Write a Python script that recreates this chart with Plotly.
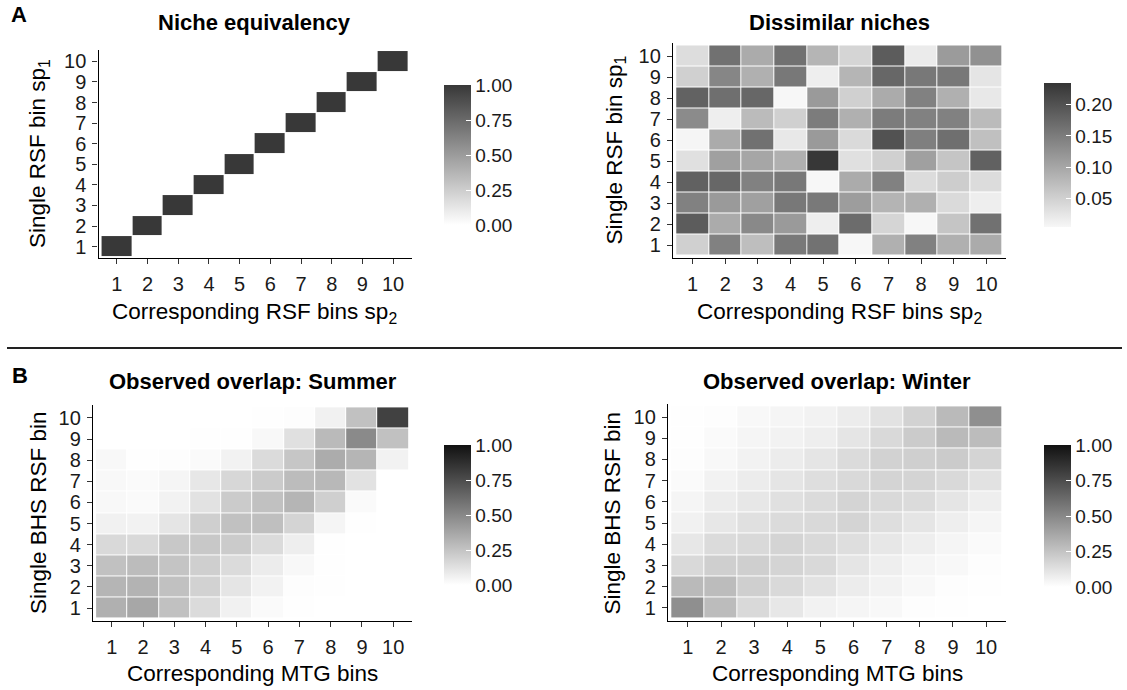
import plotly.graph_objects as go

bins = list(range(1, 11))
tick_labels = [str(b) for b in bins]

# Niche equivalency: identity matrix (rows = y bin 1..10)
z_equiv = [[1.0 if i == j else 0.0 for j in bins] for i in bins]

# Dissimilar niches (rows: y = 1..10, columns: x = 1..10)
z_dissim = [
    [0.050, 0.144, 0.072, 0.154, 0.162, 0.004, 0.088, 0.144, 0.088, 0.095],
    [0.189, 0.095, 0.135, 0.115, 0.015, 0.170, 0.044, 0.004, 0.063, 0.163],
    [0.144, 0.115, 0.107, 0.155, 0.154, 0.111, 0.084, 0.088, 0.038, 0.015],
    [0.183, 0.175, 0.144, 0.155, 0.004, 0.095, 0.144, 0.036, 0.054, 0.036],
    [0.031, 0.107, 0.101, 0.088, 0.233, 0.031, 0.051, 0.107, 0.063, 0.183],
    [0.006, 0.095, 0.163, 0.022, 0.115, 0.038, 0.201, 0.147, 0.166, 0.069],
    [0.133, 0.015, 0.075, 0.050, 0.151, 0.088, 0.151, 0.144, 0.144, 0.075],
    [0.182, 0.166, 0.175, 0.004, 0.115, 0.050, 0.095, 0.144, 0.088, 0.022],
    [0.050, 0.138, 0.088, 0.155, 0.015, 0.082, 0.175, 0.155, 0.155, 0.025],
    [0.035, 0.163, 0.095, 0.163, 0.082, 0.044, 0.189, 0.018, 0.114, 0.125],
]

# Observed overlap: Summer
z_summer = [
    [0.33, 0.37, 0.26, 0.15, 0.06, 0.02, 0.005, 0.0, 0.0, 0.0],
    [0.31, 0.32, 0.26, 0.19, 0.11, 0.055, 0.01, 0.003, 0.0, 0.0],
    [0.26, 0.28, 0.25, 0.20, 0.15, 0.08, 0.03, 0.005, 0.0, 0.0],
    [0.16, 0.16, 0.23, 0.23, 0.22, 0.15, 0.07, 0.005, 0.0, 0.0],
    [0.06, 0.055, 0.11, 0.20, 0.26, 0.27, 0.18, 0.04, 0.003, 0.0],
    [0.03, 0.02, 0.055, 0.12, 0.22, 0.26, 0.31, 0.20, 0.02, 0.0],
    [0.03, 0.02, 0.04, 0.10, 0.17, 0.22, 0.28, 0.30, 0.12, 0.0],
    [0.03, 0.005, 0.01, 0.02, 0.055, 0.15, 0.24, 0.35, 0.31, 0.055],
    [0.0, 0.0, 0.0, 0.003, 0.005, 0.03, 0.13, 0.29, 0.49, 0.26],
    [0.0, 0.0, 0.0, 0.0, 0.0, 0.003, 0.01, 0.06, 0.26, 0.80],
]

# Observed overlap: Winter
z_winter = [
    [0.47, 0.28, 0.16, 0.10, 0.055, 0.04, 0.03, 0.01, 0.005, 0.0],
    [0.29, 0.28, 0.20, 0.16, 0.12, 0.08, 0.055, 0.03, 0.01, 0.005],
    [0.16, 0.20, 0.20, 0.18, 0.16, 0.11, 0.07, 0.04, 0.03, 0.01],
    [0.10, 0.15, 0.16, 0.18, 0.16, 0.14, 0.10, 0.07, 0.04, 0.02],
    [0.06, 0.10, 0.13, 0.15, 0.16, 0.18, 0.14, 0.11, 0.07, 0.04],
    [0.04, 0.08, 0.10, 0.13, 0.15, 0.18, 0.16, 0.15, 0.11, 0.07],
    [0.02, 0.055, 0.08, 0.11, 0.14, 0.16, 0.18, 0.18, 0.16, 0.12],
    [0.01, 0.03, 0.055, 0.08, 0.11, 0.15, 0.19, 0.20, 0.22, 0.18],
    [0.005, 0.02, 0.04, 0.055, 0.07, 0.11, 0.16, 0.22, 0.29, 0.28],
    [0.005, 0.01, 0.03, 0.04, 0.055, 0.08, 0.12, 0.19, 0.29, 0.47],
]

cb_ticks_unit = [0.0, 0.25, 0.5, 0.75, 1.0]
cb_ticks_dissim = [0.05, 0.10, 0.15, 0.20]

titles = ["Niche equivalency", "Dissimilar niches",
          "Observed overlap: Summer", "Observed overlap: Winter"]
x_titles = ["Corresponding RSF bins sp<sub>2</sub>", "Corresponding RSF bins sp<sub>2</sub>",
            "Corresponding MTG bins", "Corresponding MTG bins"]
y_titles = ["Single RSF bin sp<sub>1</sub>", "Single RSF bin sp<sub>1</sub>",
            "Single BHS RSF bin", "Single BHS RSF bin"]

W, H = 1127, 690
FONT = "Liberation Sans, Arial, sans-serif"

def px_x(v):
    return v / W

def px_y(v):
    return 1 - v / H

# panel geometry in pixels: (x0, x1, ytop, ybottom)
panels = [
    (98.5, 411.5, 50.0, 258.0),
    (673.0, 1006.0, 43.4, 257.6),
    (93.0, 412.0, 405.3, 620.7),
    (668.0, 1006.0, 404.3, 620.7),
]
yranges = [[0.45, 10.55], [0.4, 10.6], [0.4, 10.6], [0.4, 10.6]]

# colorbar geometry: (x_left, y_center, length)
cbars = [(444, 155, 140), (1044, 155, 144), (444, 515, 140), (1044, 516, 142)]

fig = go.Figure()

specs = [
    (z_equiv, [[0, "#ffffff"], [1, "#383838"]], 0.0, 1.0, cb_ticks_unit),
    (z_dissim, [[0, "#f7f7f7"], [1, "#353535"]], 0.004, 0.235, cb_ticks_dissim),
    (z_summer, [[0, "#ffffff"], [1, "#111111"]], 0.0, 1.0, cb_ticks_unit),
    (z_winter, [[0, "#ffffff"], [1, "#111111"]], 0.0, 1.0, cb_ticks_unit),
]

for k, (z, cs, cmin, cmax, cbt) in enumerate(specs):
    ax = "" if k == 0 else str(k + 1)
    cx, cy, clen = cbars[k]
    fig.add_trace(go.Heatmap(
        x=bins, y=bins, z=z,
        colorscale=cs, zmin=cmin, zmax=cmax,
        xgap=1, ygap=1,
        xaxis="x" + ax, yaxis="y" + ax,
        hoverinfo="skip",
        colorbar=dict(
            x=px_x(cx), xanchor="left", xpad=0,
            y=px_y(cy), yanchor="middle", ypad=0,
            len=clen, lenmode="pixels", thickness=27,
            outlinewidth=0,
            tickvals=cbt, ticktext=["%.2f" % t for t in cbt],
            ticks="inside", ticklen=5, tickcolor="white", tickwidth=1,
            tickfont=dict(family=FONT, size=19, color="#1a1a1a"),
        ),
    ))

layout = dict(
    width=W, height=H,
    margin=dict(l=0, r=0, t=0, b=0),
    paper_bgcolor="white", plot_bgcolor="white",
    font=dict(family=FONT, color="black"),
    showlegend=False,
)

axis_common = dict(
    showgrid=False, zeroline=False, showline=True,
    linecolor="black", linewidth=1.3,
    ticks="outside", ticklen=5, tickwidth=1.2, tickcolor="#333333",
    tickfont=dict(family=FONT, size=20, color="#1a1a1a"),
    tickvals=bins, ticktext=tick_labels,
    fixedrange=True,
)

annotations = []
for k, (x0, x1, yt, yb) in enumerate(panels):
    ax = "" if k == 0 else str(k + 1)
    layout["xaxis" + ax] = dict(axis_common, domain=[px_x(x0), px_x(x1)],
                                range=[0.4, 10.6], anchor="y" + ax,
                                ticklabelstandoff=3)
    layout["yaxis" + ax] = dict(axis_common, domain=[px_y(yb), px_y(yt)],
                                range=yranges[k], anchor="x" + ax,
                                ticklabelstandoff=2)
    xc = (x0 + x1) / 2
    ttl_y = 23 if k < 2 else 382
    annotations.append(dict(text="<b>%s</b>" % titles[k], x=px_x(xc), y=px_y(ttl_y),
                            xref="paper", yref="paper", showarrow=False,
                            xanchor="center", yanchor="middle",
                            font=dict(family=FONT, size=22, color="black")))
    xt_y = 313 if k < 2 else 673
    annotations.append(dict(text=x_titles[k], x=px_x(xc), y=px_y(xt_y),
                            xref="paper", yref="paper", showarrow=False,
                            xanchor="center", yanchor="middle",
                            font=dict(family=FONT, size=22.5, color="black")))
    yt_x = [39, 615, 38, 612][k]
    annotations.append(dict(text=y_titles[k], x=px_x(yt_x), y=px_y((yt + yb) / 2),
                            xref="paper", yref="paper", showarrow=False,
                            textangle=-90, xanchor="center", yanchor="middle",
                            font=dict(family=FONT, size=22.5, color="black")))

annotations.append(dict(text="<b>A</b>", x=px_x(19), y=px_y(15), xref="paper", yref="paper",
                        showarrow=False, xanchor="center", yanchor="middle",
                        font=dict(family=FONT, size=22, color="black")))
annotations.append(dict(text="<b>B</b>", x=px_x(20), y=px_y(375), xref="paper", yref="paper",
                        showarrow=False, xanchor="center", yanchor="middle",
                        font=dict(family=FONT, size=22, color="black")))

layout["annotations"] = annotations
layout["shapes"] = [dict(type="line", xref="paper", yref="paper",
                         x0=px_x(7), x1=px_x(1122), y0=px_y(348), y1=px_y(348),
                         line=dict(color="#222222", width=2))]

fig.update_layout(**layout)
fig.write_html("out.html")
